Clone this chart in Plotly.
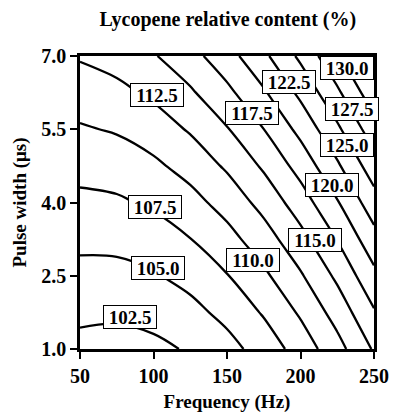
import plotly.graph_objects as go

# Grid (frequency in Hz, pulse width in µs)
frequency = [50, 75, 100, 125, 150, 175, 200, 225, 250]
pulse_width = [1.0, 1.75, 2.5, 3.25, 4.0, 4.75, 5.5, 6.25, 7.0]
lycopene = [
    [101.79, 101.60, 101.92, 102.76, 104.14, 106.06, 108.55, 111.61, 115.27],
    [103.01, 102.91, 103.32, 104.25, 105.72, 107.75, 110.34, 113.50, 117.26],
    [104.27, 104.27, 104.78, 105.81, 107.39, 109.52, 112.22, 115.50, 119.37],
    [105.58, 105.68, 106.30, 107.45, 109.14, 111.38, 114.20, 117.60, 121.59],
    [106.93, 107.15, 107.88, 109.15, 110.96, 113.33, 116.27, 119.80, 123.93],
    [108.32, 108.66, 109.52, 110.92, 112.86, 115.37, 118.44, 122.11, 126.37],
    [109.75, 110.23, 111.23, 112.76, 114.84, 117.49, 120.71, 124.52, 128.93],
    [111.23, 111.84, 112.98, 114.66, 116.89, 119.69, 123.06, 127.03, 131.60],
    [112.74, 113.50, 114.80, 116.63, 119.02, 121.97, 125.51, 129.64, 134.37],
]
contour_labels = ["112.5", "107.5", "105.0", "102.5", "110.0", "115.0",
                  "117.5", "120.0", "122.5", "125.0", "127.5", "130.0"]
label_x = [102.4, 101.0, 103.1, 84.0, 167.7, 209.9, 167.0, 221.4, 192.2, 231.6, 235.0, 231.6]
label_y = [6.20, 3.91, 2.66, 1.66, 2.82, 3.23, 5.83, 4.36, 6.47, 5.18, 5.92, 6.75]
x_ticks = [50, 100, 150, 200, 250]
y_ticks = [1.0, 2.5, 4.0, 5.5, 7.0]

FONT = "Liberation Serif"

fig = go.Figure(go.Contour(
    x=frequency, y=pulse_width, z=lycopene,
    contours=dict(start=102.5, end=130, size=2.5, coloring="lines", showlabels=False),
    colorscale=[[0, "black"], [1, "black"]], showscale=False,
    line=dict(width=2.3, smoothing=1.0), hoverinfo="skip",
))

for t, lx, ly in zip(contour_labels, label_x, label_y):
    fig.add_annotation(x=lx, y=ly, text="<b>%s</b>" % t, showarrow=False,
                       font=dict(family=FONT, size=19, color="black"),
                       bgcolor="white", bordercolor="black", borderwidth=1,
                       borderpad=0, width=52, height=22)

# the page body adds an 8px offset, so the figure is sized to fit the window
fig.update_layout(
    width=389, height=405,
    margin=dict(l=72, r=23, t=48, b=64),
    plot_bgcolor="white", paper_bgcolor="white",
    font=dict(family=FONT, color="black"),
    title=dict(text="<b>Lycopene relative content (%)</b>", x=0.565, xanchor="center",
               yref="container", y=0.973, yanchor="middle",
               font=dict(family=FONT, size=20, color="black")),
)
fig.update_xaxes(range=[50, 250], tickvals=x_ticks, ticktext=["<b>%d</b>" % v for v in x_ticks],
                 ticks="outside", ticklen=7, tickwidth=2, tickcolor="black",
                 showline=True, linewidth=2.5, linecolor="black", mirror=True,
                 showgrid=False, zeroline=False, automargin=False,
                 tickfont=dict(family=FONT, size=20, color="black"),
                 title=dict(text="<b>Frequency (Hz)</b>", standoff=10,
                            font=dict(family=FONT, size=19, color="black")))
fig.update_yaxes(range=[1, 7], tickvals=y_ticks, ticktext=["<b>%.1f</b>" % v for v in y_ticks],
                 ticks="outside", ticklen=7, tickwidth=2, tickcolor="black",
                 showline=True, linewidth=2.5, linecolor="black", mirror=True,
                 showgrid=False, zeroline=False, automargin=False,
                 tickfont=dict(family=FONT, size=20, color="black"),
                 title=dict(text="<b>Pulse width (μs)</b>", standoff=10,
                            font=dict(family=FONT, size=19, color="black")))

fig.write_html("out.html")
